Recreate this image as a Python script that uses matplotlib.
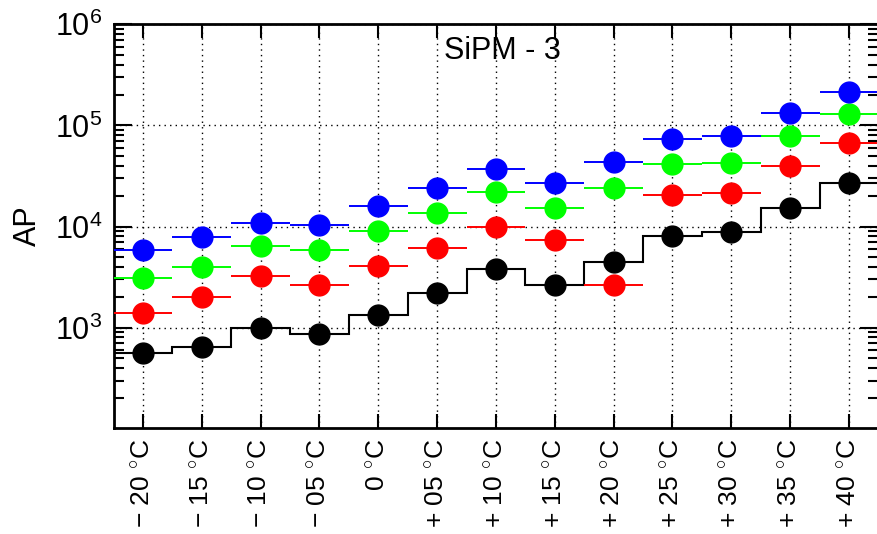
import numpy as np
import matplotlib
matplotlib.use("Agg")
import matplotlib.pyplot as plt
from matplotlib.ticker import LogLocator, LogFormatterSciNotation, NullFormatter

plt.rcParams["font.family"] = ["Liberation Sans", "DejaVu Sans"]
plt.rcParams["mathtext.fontset"] = "custom"
plt.rcParams["mathtext.rm"] = "Liberation Sans"
plt.rcParams["mathtext.it"] = "Liberation Sans:italic"
plt.rcParams["mathtext.bf"] = "Liberation Sans:bold"

# Temperature bins
temp_labels = [
    "\u2212 20 $^{\\circ}$C", "\u2212 15 $^{\\circ}$C", "\u2212 10 $^{\\circ}$C",
    "\u2212 05 $^{\\circ}$C", "0 $^{\\circ}$C", "+ 05 $^{\\circ}$C",
    "+ 10 $^{\\circ}$C", "+ 15 $^{\\circ}$C", "+ 20 $^{\\circ}$C",
    "+ 25 $^{\\circ}$C", "+ 30 $^{\\circ}$C", "+ 35 $^{\\circ}$C",
    "+ 40 $^{\\circ}$C",
]

# Afterpulse counts per temperature, four series
ap_black = [566, 649, 1000, 861, 1335, 2186, 3765, 2637, 4500, 8040, 8870, 15100, 27000]
ap_red = [1406, 2023, 3236, 2637, 4063, 6160, 9930, 7345, 2656, 20700, 21700, 39700, 67000]
ap_green = [3077, 3945, 6440, 5848, 9020, 13650, 22000, 15300, 24200, 41300, 42900, 78000, 130700]
ap_blue = [5848, 7910, 10870, 10320, 15900, 24300, 37500, 27000, 43500, 74100, 78000, 132500, 213800]

x = np.arange(len(temp_labels))
edges = np.arange(len(temp_labels) + 1) - 0.5

fig = plt.figure(figsize=(8.77, 5.34), dpi=100)
ax = fig.add_axes([0.1295, 0.1994, 0.8721, 0.7551])

ax.set_yscale("log")
ax.set_xlim(-0.5, len(temp_labels) - 0.5)
ax.set_ylim(103, 1e6)

# grid
ax.grid(True, which="major", color="black", linestyle=(0, (1, 3)), linewidth=1.0, zorder=0)

# histogram-style step for the lowest series
ax.stairs(ap_black, edges, baseline=None, color="black", linewidth=1.5, zorder=2)
ax.plot(x, ap_black, "o", color="black", markersize=15, zorder=3)

for vals, col, z in [(ap_red, "#ff0000", 4), (ap_green, "#00ff00", 5), (ap_blue, "#0000ff", 6)]:
    ax.errorbar(x, vals, xerr=0.5, fmt="o", color=col, markersize=15,
                elinewidth=1.4, capsize=0, zorder=z)

ax.set_xticks(x)
ax.set_xticklabels(temp_labels, rotation=90, fontsize=19, va="top", ha="center")

ax.yaxis.set_major_locator(LogLocator(base=10, numticks=10))
ax.yaxis.set_major_formatter(LogFormatterSciNotation())
ax.yaxis.set_minor_locator(LogLocator(base=10, subs=np.arange(2, 10), numticks=20))
ax.yaxis.set_minor_formatter(NullFormatter())

ax.tick_params(axis="x", which="major", direction="in", length=10, width=1.5,
               top=True, bottom=True, pad=8)
ax.tick_params(axis="y", which="major", direction="in", length=13, width=1.5,
               left=True, right=True, labelsize=22, pad=8)
ax.tick_params(axis="y", which="minor", direction="in", length=7, width=1.5,
               left=True, right=True)

for s in ax.spines.values():
    s.set_linewidth(2.0)

ax.set_ylabel("AP", fontsize=22)
ax.yaxis.set_label_coords(-0.092, 0.5)

fig.text(0.5725, 0.905, "SiPM - 3", fontsize=22, ha="center", va="center")

fig.savefig("out.png", dpi=100)
